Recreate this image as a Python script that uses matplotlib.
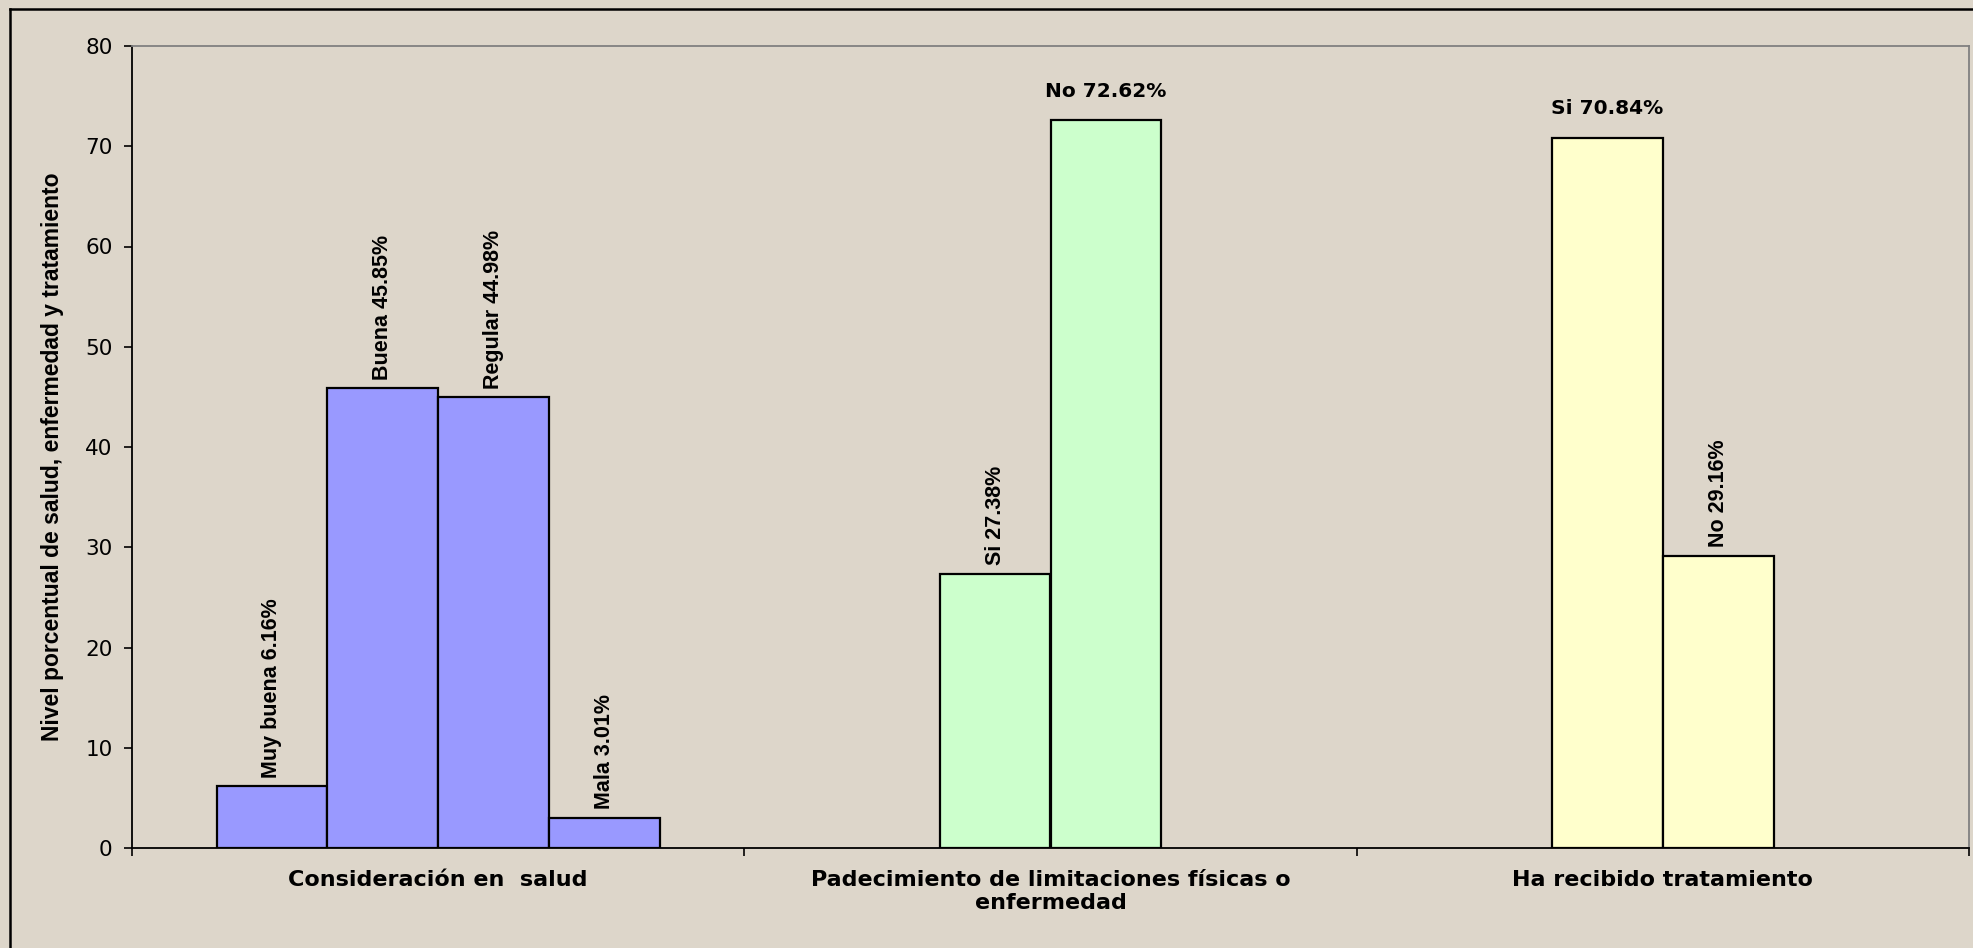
import numpy as np
import matplotlib
matplotlib.use("Agg")
import matplotlib.pyplot as plt
from matplotlib.lines import Line2D

# datos
categorias = ["Consideración en  salud",
              "Padecimiento de limitaciones físicas o\nenfermedad",
              "Ha recibido tratamiento"]
salud_vals = [6.16, 45.85, 44.98, 3.01]
salud_labels = ["Muy buena 6.16%", "Buena 45.85%", "Regular 44.98%", "Mala 3.01%"]
limit_vals = [27.38, 72.62]
limit_labels = ["Si 27.38%", "No 72.62%"]
trat_vals = [70.84, 29.16]
trat_labels = ["Si 70.84%", "No 29.16%"]
y_ticks = [0, 10, 20, 30, 40, 50, 60, 70, 80]
y_label = "Nivel porcentual de salud, enfermedad y tratamiento"

grupos = [(salud_vals, salud_labels, "#9999FF"),
          (limit_vals, limit_labels, "#CCFFCC"),
          (trat_vals, trat_labels, "#FFFFCC")]
# etiquetas que van horizontales (las mas altas)
horizontales = ["No 72.62%", "Si 70.84%"]

fondo = "#DDD6CA"
W, H = 1974, 948
fig = plt.figure(figsize=(W / 100, H / 100), dpi=100, facecolor=fondo)
ax = fig.add_axes([132 / W, 1 - 848 / H, 1837 / W, (848 - 46) / H])
ax.set_facecolor(fondo)

ancho = 0.181
for i, (vals, labels, color) in enumerate(grupos):
    n = len(vals)
    xs = [i + (j - (n - 1) / 2) * ancho for j in range(n)]
    ax.bar(xs, vals, width=ancho, color=color, edgecolor="black", linewidth=1.6, zorder=3)
    for x, v, lab in zip(xs, vals, labels):
        if lab in horizontales:
            ax.annotate(lab, (x, v), xytext=(0, 14), textcoords="offset points",
                        ha="center", va="bottom", fontsize=14.5, fontweight="bold",
                        family="DejaVu Sans", zorder=4)
        else:
            ax.annotate(lab, (x, v), xytext=(0, 6), textcoords="offset points",
                        ha="center", va="bottom", rotation=90, fontsize=15.5,
                        fontweight="bold", family="Liberation Sans", zorder=4)

ax.set_xlim(-0.5, 2.5)
ax.set_ylim(0, 80)
ax.set_yticks(y_ticks)
ax.set_yticklabels([str(t) for t in y_ticks], family="DejaVu Sans", fontsize=15.5)
ax.tick_params(axis="y", direction="out", length=6, width=1.2, pad=8)

ax.set_xticks([-0.5, 0.5, 1.5, 2.5])
ax.set_xticklabels([])
ax.tick_params(axis="x", which="major", direction="out", length=6, width=1.2)
ax.set_xticks([0, 1, 2], minor=True)
ax.set_xticklabels(categorias, minor=True, fontsize=16, fontweight="bold",
                   family="DejaVu Sans")
ax.tick_params(axis="x", which="minor", length=0, pad=16)

ax.set_ylabel(y_label, fontsize=16.5, fontweight="bold", family="Liberation Sans")
ax.yaxis.set_label_coords(-0.037, 0.4875)

for s in ["left", "bottom"]:
    ax.spines[s].set_color("black")
    ax.spines[s].set_linewidth(1.3)
for s in ["top", "right"]:
    ax.spines[s].set_color("#808080")
    ax.spines[s].set_linewidth(1.3)

# borde exterior del grafico
fig.add_artist(Line2D([10.5 / W, 10.5 / W], [0, 1 - 8.5 / H], color="black",
                      linewidth=1.8, transform=fig.transFigure))
fig.add_artist(Line2D([10.5 / W, 1], [1 - 8.5 / H, 1 - 8.5 / H], color="black",
                      linewidth=1.8, transform=fig.transFigure))

fig.savefig("out.png", dpi=100, facecolor=fondo)
